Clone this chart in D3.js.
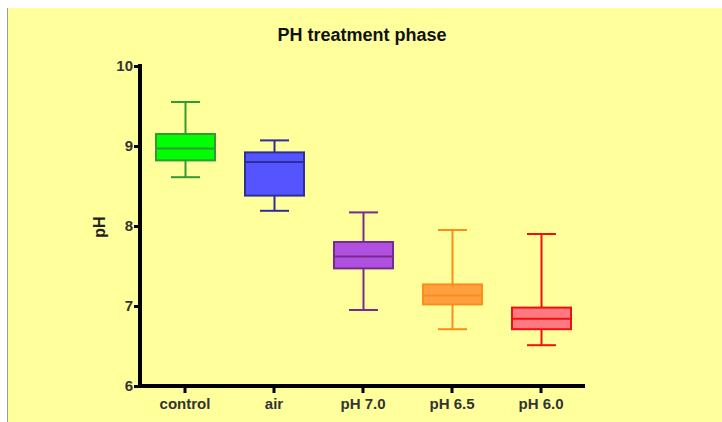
<!DOCTYPE html>
<html>
<head>
<meta charset="utf-8">
<script src="https://cdn.jsdelivr.net/npm/d3@7"></script>
<style>
  html, body { margin: 0; padding: 0; background: #ffffff; }
  svg { display: block; }
</style>
</head>
<body>
<svg id="chart" width="722" height="422"></svg>
<script>
// Treatment groups and their box-plot summaries (pH)
const groups   = ["control", "air", "pH 7.0", "pH 6.5", "pH 6.0"];
const whiskLow = [8.61, 8.19, 6.95, 6.71, 6.51];
const q1       = [8.82, 8.38, 7.47, 7.02, 6.71];
const medians  = [8.97, 8.80, 7.62, 7.13, 6.84];
const q3       = [9.15, 8.92, 7.80, 7.27, 6.98];
const whiskHigh= [9.55, 9.07, 8.17, 7.95, 7.90];
const yTicks   = [6, 7, 8, 9, 10];

const fills   = ["#00ff00", "#5555ff", "#b050e0", "#ffa040", "#ff7a80"];
const strokes = ["#339933", "#2e2e99", "#7a2a8c", "#ff8c1a", "#ee1111"];

const svg = d3.select("#chart");

// panel background
svg.append("rect").attr("x", 8).attr("y", 8).attr("width", 714).attr("height", 414)
  .attr("fill", "#ffff9c");
svg.append("line").attr("x1", 7.5).attr("x2", 7.5).attr("y1", 8).attr("y2", 422)
  .attr("stroke", "#8fa58f").attr("stroke-width", 1);

const x = d3.scalePoint().domain(groups).range([140, 585]).padding(0.5);
const y = d3.scaleLinear().domain([6, 10]).range([386, 66]);

const font = "Liberation Sans, Arial, sans-serif";

svg.append("text").attr("x", 362).attr("y", 41).attr("text-anchor", "middle")
  .attr("font-family", font).attr("font-weight", "bold")
  .attr("font-size", 18).attr("fill", "#111").text("PH treatment phase");

// axes
const yAxis = svg.append("g").attr("transform", "translate(140,0)")
  .call(d3.axisLeft(y).tickValues(yTicks).tickSize(6).tickPadding(1).tickFormat(d3.format("d")));
const xAxis = svg.append("g").attr("transform", "translate(0,386)")
  .call(d3.axisBottom(x).tickSize(7).tickPadding(5));
[yAxis, xAxis].forEach(g => {
  g.select(".domain").attr("stroke", "#000").attr("stroke-width", 4);
  g.selectAll(".tick line").attr("stroke", "#000").attr("stroke-width", 3);
  g.selectAll(".tick text").attr("font-family", font).attr("font-weight", "bold")
    .attr("font-size", 15).attr("fill", "#333");
});
yAxis.select(".domain").attr("d", "M0,64V388");
xAxis.select(".domain").attr("d", "M138,0H585");

svg.append("text").attr("transform", "translate(105,227) rotate(-90)")
  .attr("text-anchor", "middle").attr("font-family", font).attr("font-weight", "bold")
  .attr("font-size", 16).attr("fill", "#222").text("pH");

// boxes
const boxW = 59, capW = 29;
const rows = groups.map((g, i) => ({ g, i }));
const boxes = svg.append("g").selectAll("g").data(rows).join("g");
boxes.each(function(d) {
  const i = d.i, cx = Math.round(x(d.g)) + 0.5, gg = d3.select(this);
  const st = strokes[i];
  gg.append("line").attr("x1", cx).attr("x2", cx).attr("y1", y(whiskHigh[i])).attr("y2", y(q3[i]))
    .attr("stroke", st).attr("stroke-width", 2);
  gg.append("line").attr("x1", cx).attr("x2", cx).attr("y1", y(q1[i])).attr("y2", y(whiskLow[i]))
    .attr("stroke", st).attr("stroke-width", 2);
  [whiskHigh[i], whiskLow[i]].forEach(v => {
    gg.append("line").attr("x1", cx - capW / 2).attr("x2", cx + capW / 2)
      .attr("y1", y(v)).attr("y2", y(v)).attr("stroke", st).attr("stroke-width", 2);
  });
  gg.append("rect").attr("x", cx - boxW / 2).attr("width", boxW)
    .attr("y", y(q3[i])).attr("height", y(q1[i]) - y(q3[i]))
    .attr("fill", fills[i]).attr("stroke", st).attr("stroke-width", 2);
  gg.append("line").attr("x1", cx - boxW / 2).attr("x2", cx + boxW / 2)
    .attr("y1", y(medians[i])).attr("y2", y(medians[i])).attr("stroke", st).attr("stroke-width", 2);
});
</script>
</body>
</html>
